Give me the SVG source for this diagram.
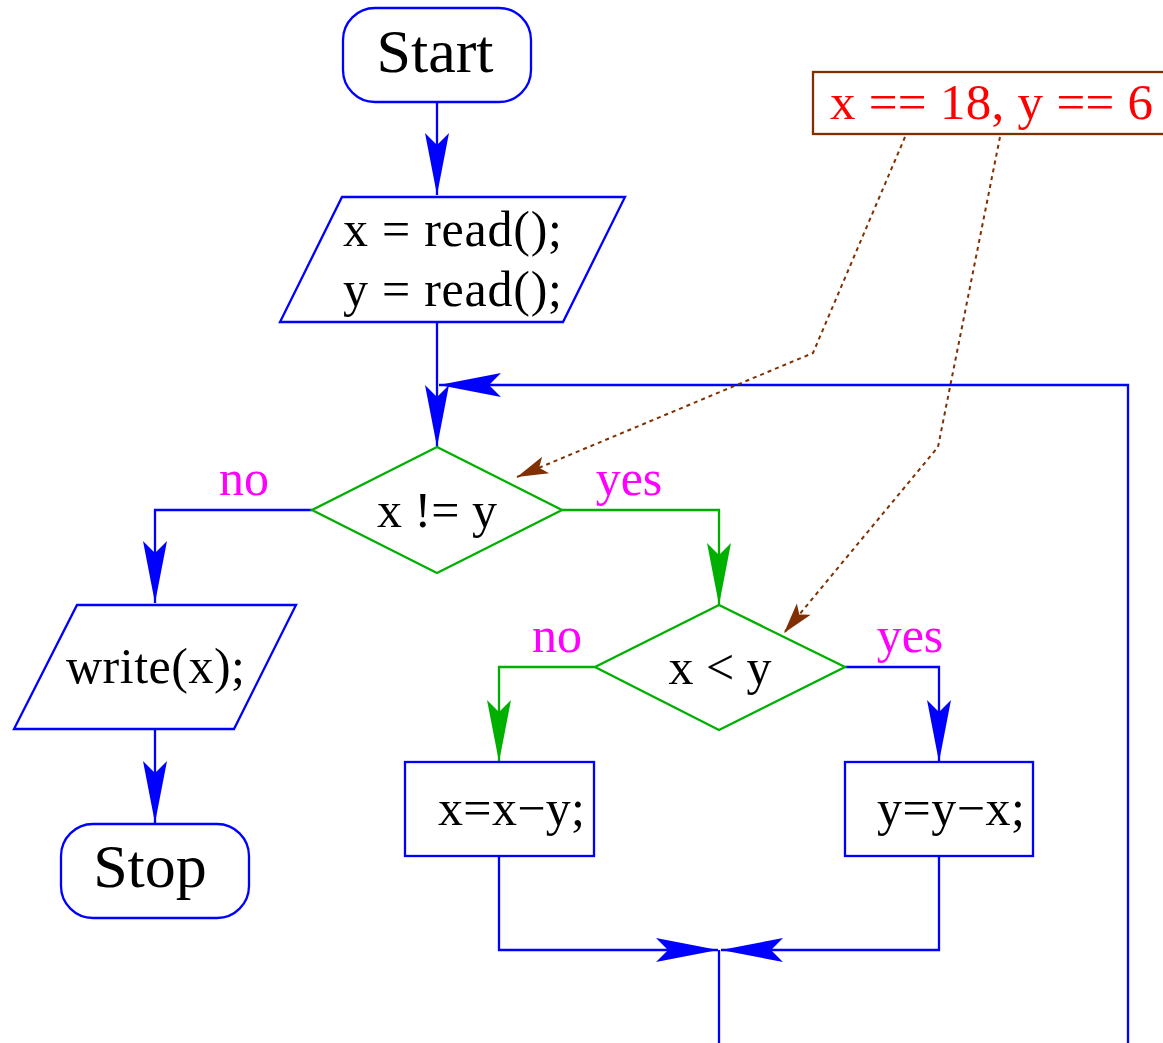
<svg xmlns="http://www.w3.org/2000/svg" width="1163" height="1043" viewBox="0 0 1163 1043">
  <style>
    text { font-family: "Liberation Serif", "Times New Roman", serif; }
    .t { font-size: 50px; fill: #000; }
    .big { font-size: 62px; fill: #000; text-anchor: middle; }
    .lbl { font-size: 50px; fill: #ff00ff; }
    .note { font-size: 51px; fill: #ff0000; }
    .blue { fill: #fff; stroke: #0000ff; stroke-width: 2.3; }
    .greenshape { fill: #fff; stroke: #00b000; stroke-width: 2.3; }
    .cb { fill: none; stroke: #0000ff; stroke-width: 2.3; }
    .cg { fill: none; stroke: #00b000; stroke-width: 2.3; }
    .cd { fill: none; stroke: #803000; stroke-width: 2; stroke-dasharray: 4 4; }
  </style>
  <defs>
    <marker id="ab" markerUnits="userSpaceOnUse" viewBox="-64 -14 66 28" refX="0" refY="0" markerWidth="66" markerHeight="28" orient="auto" overflow="visible">
      <path d="M0,0 L-62,-12 L-50,0 L-62,12 Z" fill="#0000ff"/>
    </marker>
    <marker id="ag" markerUnits="userSpaceOnUse" viewBox="-64 -14 66 28" refX="0" refY="0" markerWidth="66" markerHeight="28" orient="auto" overflow="visible">
      <path d="M0,0 L-62,-12 L-50,0 L-62,12 Z" fill="#00b000"/>
    </marker>
    <marker id="ad" markerUnits="userSpaceOnUse" viewBox="-34 -11 36 22" refX="0" refY="0" markerWidth="36" markerHeight="22" orient="auto" overflow="visible">
      <path d="M0,0 L-31,-9 L-24,0 L-31,9 Z" fill="#803000"/>
    </marker>
  </defs>

  <!-- connectors -->
  <g id="connectors">
    <path class="cb" d="M437,102 V195" marker-end="url(#ab)"/>
    <path class="cb" d="M437,322 V447" marker-end="url(#ab)"/>
    <path class="cb" d="M1128,1043 V385 H439" marker-end="url(#ab)"/>
    <path class="cb" d="M312,510 H155 V603" marker-end="url(#ab)"/>
    <path class="cg" d="M562,510 H719 V605" marker-end="url(#ag)"/>
    <path class="cg" d="M595,667 H499 V762" marker-end="url(#ag)"/>
    <path class="cb" d="M845,667 H939 V762" marker-end="url(#ab)"/>
    <path class="cb" d="M155,729 V823" marker-end="url(#ab)"/>
    <path class="cb" d="M499,856 V950 H718" marker-end="url(#ab)"/>
    <path class="cb" d="M939,856 V950 H721" marker-end="url(#ab)"/>
    <path class="cb" d="M719,950 V1043"/>
    <path class="cd" d="M905,137 L813,353 L517,477" marker-end="url(#ad)"/>
    <path class="cd" d="M1000,137 L938,447 L784,633" marker-end="url(#ad)"/>
  </g>

  <g id="start">
    <rect class="blue" x="343" y="8" width="188" height="94" rx="32" ry="32"/>
    <text class="big" x="435" y="72">Start</text>
  </g>

  <g id="read">
    <polygon class="blue" points="342,197 625,197 563,322 280,322"/>
    <text class="t" x="343" y="246" textLength="219" lengthAdjust="spacing">x = read();</text>
    <text class="t" x="343" y="306" textLength="219" lengthAdjust="spacing">y = read();</text>
  </g>

  <g id="note">
    <rect x="813" y="72" width="360" height="62" fill="#fff" stroke="#803000" stroke-width="2.3"/>
    <text class="note" x="830" y="119" textLength="323" lengthAdjust="spacing">x == 18, y == 6</text>
  </g>

  <g id="cond1">
    <polygon class="greenshape" points="437,447 562,510 437,573 312,510"/>
    <text class="t" x="437" y="527" text-anchor="middle">x != y</text>
  </g>
  <text class="lbl" x="244" y="495" text-anchor="middle">no</text>
  <text class="lbl" x="629" y="495" text-anchor="middle">yes</text>

  <g id="cond2">
    <polygon class="greenshape" points="719,605 845,667 719,730 595,667"/>
    <text class="t" x="720" y="684" text-anchor="middle">x &lt; y</text>
  </g>
  <text class="lbl" x="557" y="652" text-anchor="middle">no</text>
  <text class="lbl" x="910" y="652" text-anchor="middle">yes</text>

  <g id="write">
    <polygon class="blue" points="77,605 296,605 234,729 14,729"/>
    <text class="t" x="66" y="683" textLength="179" lengthAdjust="spacing">write(x);</text>
  </g>

  <g id="stop">
    <rect class="blue" x="61" y="824" width="188" height="94" rx="32" ry="32"/>
    <text class="big" x="150" y="887">Stop</text>
  </g>

  <g id="subx">
    <rect class="blue" x="405" y="762" width="189" height="94"/>
    <text class="t" x="438" y="825" textLength="147" lengthAdjust="spacing">x=x−y;</text>
  </g>

  <g id="suby">
    <rect class="blue" x="845" y="762" width="188" height="94"/>
    <text class="t" x="877" y="825" textLength="148" lengthAdjust="spacing">y=y−x;</text>
  </g>
</svg>
